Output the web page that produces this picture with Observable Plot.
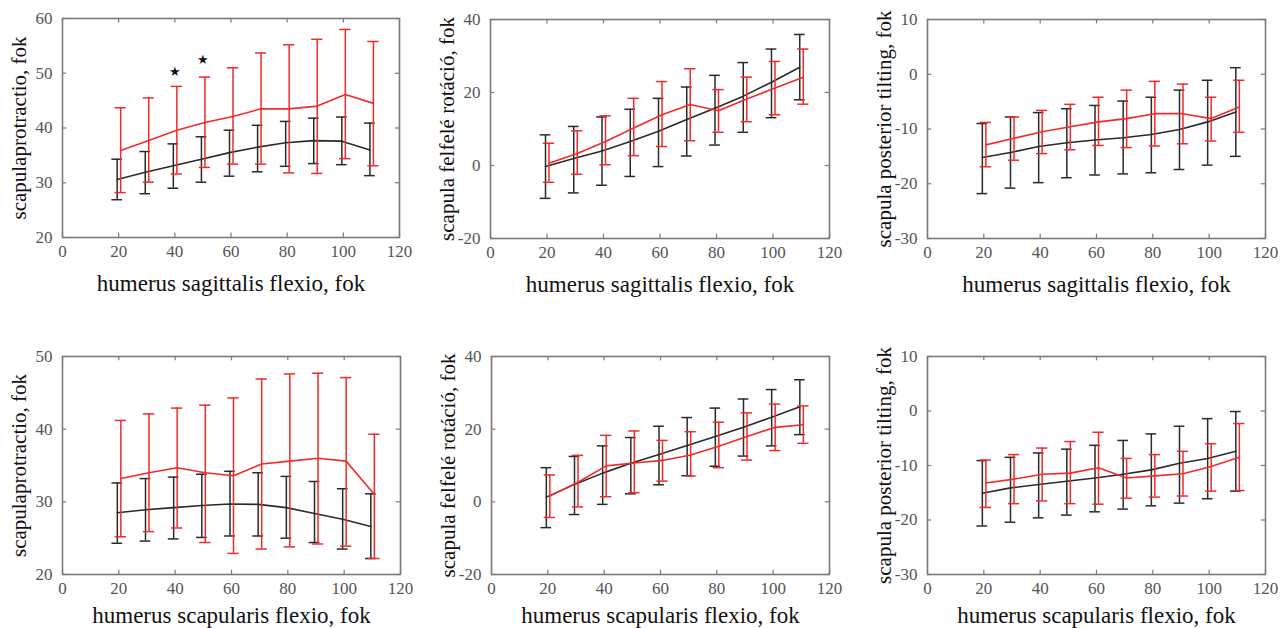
<!DOCTYPE html>
<html><head><meta charset="utf-8">
<script src="https://cdn.jsdelivr.net/npm/d3@7"></script>
<script src="https://cdn.jsdelivr.net/npm/@observablehq/plot@0.6"></script>
<style>
html,body{margin:0;padding:0;background:#fff;width:1280px;height:628px;overflow:hidden}
#wrap{position:relative;width:1280px;height:628px;font-family:'Liberation Serif','DejaVu Serif',serif}
.panel{position:absolute}
.panel text{font-family:'Liberation Serif','DejaVu Serif',serif}
.panel text.star{font-family:'DejaVu Sans',sans-serif}
</style></head><body><div id="wrap"></div>
<script>
// shared x values and tick labels
const flexio = [20,30,40,50,60,70,80,90,100,110];
const xTicks = [0,20,40,60,80,100,120];
const xLabelSag = "humerus sagittalis flexio, fok";
const xLabelScap = "humerus scapularis flexio, fok";
const yLabelProt = "scapulaprotractio, fok";
const yLabelRot = "scapula felfelé rotáció, fok";
const yLabelTilt = "scapula posterior tilting, fok";
const yTicksProt1 = [20,30,40,50,60];
const yTicksProt2 = [20,30,40,50];
const yTicksRot = [-20,0,20,40];
const yTicksTilt = [-30,-20,-10,0,10];

// Panel 1: sagittal, protractio
const p1BlackMean = [30.6,31.9,33.1,34.3,35.5,36.5,37.3,37.7,37.6,36.0];
const p1BlackHi   = [34.3,35.7,37.1,38.4,39.6,40.5,41.2,41.8,42.0,40.9];
const p1BlackLo   = [26.9,28.0,29.0,30.1,31.2,32.0,33.0,33.5,33.3,31.3];
const p1RedMean   = [35.9,37.7,39.6,41.0,42.1,43.5,43.5,44.0,46.1,44.5];
const p1RedHi     = [43.7,45.5,47.6,49.3,51.0,53.7,55.2,56.2,58.0,55.8];
const p1RedLo     = [28.2,30.1,31.6,32.8,33.4,33.4,31.8,31.7,34.4,33.1];
const p1StarX = [40,50];
const p1StarY = [50.2,52.4];

// Panel 2: sagittal, felfelé rotáció
const p2BlackMean = [-0.3,1.9,4.0,6.6,9.4,12.6,15.7,19.0,22.8,26.9];
const p2BlackHi   = [8.4,10.7,13.3,15.4,18.4,21.5,24.7,28.2,31.9,35.9];
const p2BlackLo   = [-9.0,-7.5,-5.4,-3.0,-0.3,2.6,5.6,9.1,13.1,18.0];
const p2RedMean   = [0.6,3.3,6.6,10.3,13.9,16.7,15.0,18.2,21.2,24.2];
const p2RedHi     = [6.1,9.5,13.6,18.4,23.0,26.5,20.8,24.2,28.5,31.9];
const p2RedLo     = [-4.6,-2.4,0.2,2.7,5.2,6.8,9.1,12.0,13.9,16.8];

// Panel 3: sagittal, posterior tilting
const p3BlackMean = [-15.2,-14.3,-13.2,-12.5,-12.0,-11.6,-11.0,-10.1,-8.7,-6.9];
const p3BlackHi   = [-9.0,-7.8,-7.0,-6.3,-5.7,-4.9,-4.2,-2.9,-1.1,1.2];
const p3BlackLo   = [-21.8,-20.8,-19.8,-18.9,-18.4,-18.2,-18.0,-17.4,-16.6,-15.0];
const p3RedMean   = [-12.9,-11.7,-10.5,-9.6,-8.7,-8.1,-7.2,-7.2,-8.1,-6.0];
const p3RedHi     = [-8.8,-7.8,-6.6,-5.5,-4.2,-2.9,-1.3,-1.8,-4.2,-1.1];
const p3RedLo     = [-16.9,-15.7,-14.5,-13.8,-13.0,-13.4,-13.1,-12.7,-12.2,-10.6];

// Panel 4: scapular, protractio
const p4BlackMean = [28.5,28.9,29.2,29.5,29.7,29.65,29.2,28.4,27.6,26.6];
const p4BlackHi   = [32.6,33.2,33.4,33.8,34.2,34.0,33.5,32.8,31.8,31.1];
const p4BlackLo   = [24.3,24.6,24.9,25.1,25.3,25.3,25.0,24.4,23.5,22.2];
const p4RedMean   = [33.2,34.0,34.7,34.0,33.6,35.2,35.6,36.0,35.6,31.0];
const p4RedHi     = [41.2,42.1,42.9,43.3,44.3,46.9,47.6,47.7,47.1,39.3];
const p4RedLo     = [25.2,25.9,26.4,24.4,22.9,23.5,23.8,24.2,23.9,22.2];

// Panel 5: scapular, felfelé rotáció
const p5BlackMean = [1.3,4.8,7.9,10.6,13.0,15.5,18.0,20.5,23.3,26.2];
const p5BlackHi   = [9.4,12.5,15.4,17.7,20.8,23.2,25.8,28.3,30.9,33.6];
const p5BlackLo   = [-7.1,-3.5,-0.7,2.2,4.7,7.2,9.8,12.6,15.4,18.5];
const p5RedMean   = [1.6,5.4,9.9,10.7,11.4,12.9,15.3,18.0,20.5,21.2];
const p5RedHi     = [7.4,12.8,18.3,19.5,16.9,19.3,21.9,24.5,26.9,26.4];
const p5RedLo     = [-4.3,-1.4,1.4,2.5,5.7,7.1,9.4,11.5,14.1,16.1];

// Panel 6: scapular, posterior tilting
const p6BlackMean = [-15.1,-14.1,-13.5,-12.9,-12.3,-11.6,-10.8,-9.6,-8.7,-7.4];
const p6BlackHi   = [-9.1,-8.5,-7.7,-7.0,-6.3,-5.4,-4.2,-2.8,-1.4,-0.1];
const p6BlackLo   = [-21.1,-20.4,-19.6,-19.1,-18.5,-18.0,-17.4,-16.9,-16.1,-14.7];
const p6RedMean   = [-13.2,-12.5,-11.6,-11.4,-10.4,-12.3,-11.9,-11.5,-10.2,-8.5];
const p6RedHi     = [-9.0,-8.0,-6.8,-5.6,-3.9,-8.7,-8.0,-7.4,-6.0,-2.3];
const p6RedLo     = [-17.7,-17.0,-16.5,-17.0,-17.1,-16.0,-15.8,-15.6,-14.7,-14.6];

const FONT = "Liberation Serif, DejaVu Serif, serif";
const AXC = "#7a7a7a";
const BLACK = "#2a2a2a";
const RED = "#f42a2a";
const mL = 70, mT = 20, mR = 12, mB = 70;

function series(mean, hi, lo) {
  return flexio.map((x, i) => ({x, m: mean[i], hi: hi[i], lo: lo[i]}));
}

function errMarks(data, color, dx, cap) {
  return [
    Plot.ruleX(data, {x: "x", y1: "lo", y2: "hi", stroke: color, strokeWidth: 1.5, dx}),
    Plot.ruleY(data, {y: "hi", x1: d => d.x - cap, x2: d => d.x + cap, stroke: color, strokeWidth: 1.5, dx}),
    Plot.ruleY(data, {y: "lo", x1: d => d.x - cap, x2: d => d.x + cap, stroke: color, strokeWidth: 1.5, dx}),
    Plot.line(data, {x: "x", y: "m", stroke: color, strokeWidth: 1.6, dx})
  ];
}

function panel(p) {
  const black = series(p.bm, p.bh, p.bl);
  const red = series(p.rm, p.rh, p.rl);
  const y0 = p.yTicks[0], y1 = p.yTicks[p.yTicks.length - 1];
  const tl = (y1 - y0) * 0.02;
  const marks = [
    Plot.ruleY(p.yTicks, {y: d => d, x1: 0, x2: 1.5, stroke: AXC, strokeWidth: 1.2}),
    Plot.ruleY(p.yTicks, {y: d => d, x1: 118.5, x2: 120, stroke: AXC, strokeWidth: 1.2}),
    Plot.ruleX(xTicks, {x: d => d, y1: y0, y2: y0 + tl, stroke: AXC, strokeWidth: 1.2}),
    Plot.ruleX(xTicks, {x: d => d, y1: y1 - tl, y2: y1, stroke: AXC, strokeWidth: 1.2}),
    Plot.frame({stroke: AXC, strokeWidth: 1.6}),
    Plot.axisX({ticks: xTicks, tickSize: 0, tickPadding: 7, fontSize: 17, color: "#555", fontFamily: FONT, label: null, tickFormat: d => String(d)}),
    Plot.axisY({ticks: p.yTicks, tickSize: 0, tickPadding: 10, fontSize: 17, color: "#555", fontFamily: FONT, label: null, tickFormat: d => String(d)}),
    ...errMarks(black, BLACK, -1.5, 1.9),
    ...errMarks(red, RED, 2, 2.0),
    Plot.text([p.xLabel], {frameAnchor: "bottom", lineAnchor: "middle", textAnchor: "middle", dy: p.xLabelDy, fontSize: 23, fill: "#111", fontFamily: FONT, text: d => d}),
    Plot.text([p.yLabel], {frameAnchor: "left", lineAnchor: "middle", textAnchor: "middle", rotate: -90, dx: -43, fontSize: 21, fill: "#111", fontFamily: FONT, text: d => d})
  ];
  if (p.starX) {
    marks.push(Plot.text(p.starX.map((x, i) => ({x, y: p.starY[i]})),
      {x: "x", y: "y", text: () => "\u2605", fontSize: 13, fill: "#111", fontFamily: "DejaVu Sans", className: "star"}));
  }
  const chart = Plot.plot({
    width: p.w + mL + mR,
    height: p.h + mT + mB,
    marginLeft: mL, marginTop: mT, marginRight: mR, marginBottom: mB,
    x: {domain: [0, 120]},
    y: {domain: [y0, y1]},
    style: {fontFamily: FONT, background: "transparent", overflow: "visible"},
    marks
  });
  chart.classList.add("panel");
  chart.style.left = (p.left - mL) + "px";
  chart.style.top = (p.top - mT) + "px";
  document.getElementById("wrap").appendChild(chart);
}

panel({left: 62, top: 18, w: 337, h: 219, yTicks: yTicksProt1, yLabel: yLabelProt, xLabel: xLabelSag, xLabelDy: 46,
  bm: p1BlackMean, bh: p1BlackHi, bl: p1BlackLo, rm: p1RedMean, rh: p1RedHi, rl: p1RedLo, starX: p1StarX, starY: p1StarY});
panel({left: 490, top: 19, w: 339, h: 219, yTicks: yTicksRot, yLabel: yLabelRot, xLabel: xLabelSag, xLabelDy: 46,
  bm: p2BlackMean, bh: p2BlackHi, bl: p2BlackLo, rm: p2RedMean, rh: p2RedHi, rl: p2RedLo});
panel({left: 927, top: 19, w: 338, h: 219, yTicks: yTicksTilt, yLabel: yLabelTilt, xLabel: xLabelSag, xLabelDy: 46,
  bm: p3BlackMean, bh: p3BlackHi, bl: p3BlackLo, rm: p3RedMean, rh: p3RedHi, rl: p3RedLo});
panel({left: 62, top: 356, w: 338, h: 218, yTicks: yTicksProt2, yLabel: yLabelProt, xLabel: xLabelScap, xLabelDy: 41,
  bm: p4BlackMean, bh: p4BlackHi, bl: p4BlackLo, rm: p4RedMean, rh: p4RedHi, rl: p4RedLo});
panel({left: 491, top: 356, w: 338, h: 218, yTicks: yTicksRot, yLabel: yLabelRot, xLabel: xLabelScap, xLabelDy: 41,
  bm: p5BlackMean, bh: p5BlackHi, bl: p5BlackLo, rm: p5RedMean, rh: p5RedHi, rl: p5RedLo});
panel({left: 927, top: 356, w: 338, h: 218, yTicks: yTicksTilt, yLabel: yLabelTilt, xLabel: xLabelScap, xLabelDy: 41,
  bm: p6BlackMean, bh: p6BlackHi, bl: p6BlackLo, rm: p6RedMean, rh: p6RedHi, rl: p6RedLo});
</script>
</body></html>
